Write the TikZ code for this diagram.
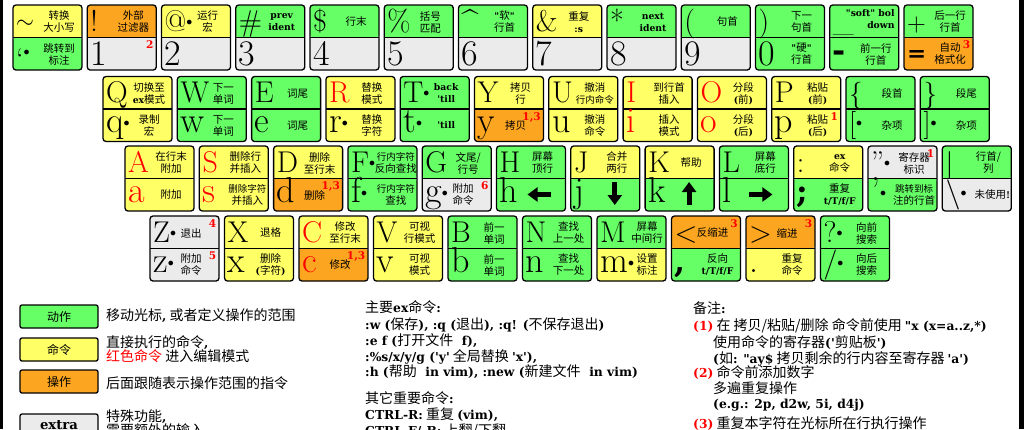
\documentclass[tikz,border=0pt]{standalone}
\usepackage{fontspec}
\usepackage{graphicx}
\newfontfamily\cjk{Noto Sans CJK SC}
\newfontfamily\latf{DejaVu Serif}[Scale=0.88]
\usetikzlibrary{arrows.meta}
\definecolor{kg}{HTML}{66FF66}
\definecolor{ky}{HTML}{FFFF66}
\definecolor{ko}{HTML}{FBA520}
\definecolor{kx}{HTML}{EBEBEB}
\newcommand\Fs[1]{\fontsize{#1}{#1}\selectfont}
\newcommand\sm{\fontsize{9.5}{11.5}\selectfont}
\newcommand\lbf[1]{{\latf\bfseries #1}}
\newcommand\rd{\color{red}}
\newcommand\kd{\raisebox{6pt}{\Fs{12}$\bullet$}}
\newcommand\tsh{\hspace*{10pt}}
\newcommand\lsh{\hspace*{8pt}}
\newcommand\rsh{\hspace*{4pt}}
\newcommand\dg[1]{\raisebox{-4pt}{\Fs{36}#1}}
\tikzset{
 keybox/.style={line width=1.3pt, rounded corners=3pt, minimum width=69pt, minimum height=65pt, inner sep=0pt, outer sep=0pt},
 keyedge/.style={line width=1.3pt},
 bigT/.style={font=\Fs{30}, inner sep=0pt},
 bigB/.style={font=\Fs{36}, inner sep=0pt},
 ktext/.style={font=\cjk\fontsize{10.5}{12}\selectfont, align=center, inner sep=0pt},
 supr/.style={font=\latf\bfseries\Fs{12}, text=red, inner sep=0pt},
 bigarr/.style={line width=5pt, -{Triangle[length=10pt,width=14pt]}},
 legbox/.style={draw, line width=1.3pt, rounded corners=2pt, minimum width=78pt, minimum height=23pt, inner sep=0pt, font=\cjk\Fs{12}},
 ltext/.style={font=\cjk\fontsize{14}{15}\selectfont, inner sep=0pt, anchor=base west},
}
\newcommand\vkey[9]{%
 \node[keybox, path picture={%
   \fill[#4] (path picture bounding box.north west) rectangle (path picture bounding box.east);
   \fill[#5] (path picture bounding box.west) rectangle (path picture bounding box.south east);}]
   (#1) at (#2+34.5,#3+32.5) {};
 \draw[keyedge] (#1.west) -- (#1.east);
 \draw[keyedge, rounded corners=3pt] (#1.north west) rectangle (#1.south east);
 \node[bigT, anchor=base west] (#1-tb) at ([xshift=3pt,yshift=-26pt]#1.north west) {#6};
 \node[ktext] (#1-tt) at ([xshift=46pt,yshift=-17pt]#1.north west) {#7};
 \node[bigB, anchor=base west] (#1-bb) at ([xshift=3pt,yshift=-56pt]#1.north west) {#8};
 \node[ktext] (#1-bt) at ([xshift=46pt,yshift=-49pt]#1.north west) {#9};
}
\newcommand\ksupT[2]{\node[supr, anchor=north east] (#1-sT) at ([xshift=-2.5pt,yshift=-3pt]#1.north east) {#2};}
\newcommand\ksupB[2]{\node[supr, anchor=north east] (#1-sB) at ([xshift=-2.5pt,yshift=-35.5pt]#1.north east) {#2};}
\begin{document}
\begin{tikzpicture}[x=1pt,y=-1pt]
\useasboundingbox (0,0) rectangle (1024,429);
\clip (0,0) rectangle (1024,429);
\fill[white] (0,0) rectangle (1024,429);
\fill[black] (0,0) rectangle (3,429);
\fill[black] (1019,0) rectangle (1024,429);
% ---------- row 1
\vkey{a0}{13}{5}{ky}{kg}{\raisebox{3pt}{\scalebox{2.3}{\Fs{10}$\sim$}}}{转换\\大小写}{\Fs{30}\raisebox{-8pt}{`}\kd}{跳转到\\标注}
\vkey{a1}{87.25}{5}{ko}{kx}{!}{外部\\过滤器}{\dg{1}}{}
\ksupB{a1}{2}
\vkey{a2}{161.5}{5}{ky}{kx}{@\kd}{运行\\宏}{\dg{2}}{}
\vkey{a3}{235.75}{5}{kg}{kx}{\#}{\lbf{prev}\\\lbf{ident}}{\dg{3}}{}
\vkey{a4}{310}{5}{kg}{kx}{\$}{行末}{\dg{4}}{}
\vkey{a5}{384.25}{5}{kg}{kx}{\%}{括号\\匹配}{\dg{5}}{}
\vkey{a6}{458.5}{5}{kg}{kx}{\textasciicircum}{\lbf{"}软\lbf{"}\\行首}{\dg{6}}{}
\vkey{a7}{532.75}{5}{ky}{kx}{\&}{重复\\\lbf{:s}}{\dg{7}}{}
\vkey{a8}{607}{5}{kg}{kx}{*}{\lbf{next}\\\lbf{ident}}{\dg{8}}{}
\vkey{a9}{681.25}{5}{kg}{kx}{(}{句首}{\dg{9}}{}
\vkey{a10}{755.5}{5}{kg}{kg}{)}{下一\\句首}{\dg{0}}{\lbf{"}硬\lbf{"}\\行首}
\vkey{a11}{829.75}{5}{kg}{kg}{\_}{}{\lbf{-}}{前一行\\行首}
\node[ktext, align=right, anchor=north east] (a11-tx) at ([xshift=-4pt,yshift=-4pt]a11.north east) {\lbf{"soft" bol}\\\lbf{down}};
\vkey{a12}{904}{5}{kg}{ko}{\Fs{26}+}{后一行\\行首}{\lbf{\Fs{26}=}}{自动\\格式化}
\ksupB{a12}{3}
% ---------- row 2
\vkey{b0}{103}{76.5}{ky}{ky}{Q}{切换至\\\lbf{ex}模式}{q\kd}{录制\\宏}
\vkey{b1}{177.3}{76.5}{kg}{kg}{W}{下一\\单词}{w}{下一\\单词}
\vkey{b2}{251.6}{76.5}{kg}{kg}{E}{词尾}{e}{词尾}
\vkey{b3}{325.9}{76.5}{ky}{ky}{\rd R}{替换\\模式}{r\kd}{替换\\字符}
\vkey{b4}{400.2}{76.5}{kg}{kg}{T\kd}{\lbf{back}\\\lbf{'till}}{t\kd}{\lbf{'till}}
\vkey{b5}{474.5}{76.5}{ky}{ko}{Y}{拷贝\\行}{y}{拷贝\tsh}
\ksupB{b5}{1,3}
\vkey{b6}{548.8}{76.5}{ky}{ky}{U}{撤消\\{\sm 行内命令}}{u}{撤消\\命令}
\vkey{b7}{623.1}{76.5}{ky}{ky}{\rd I}{到行首\\插入}{\rd i}{插入\\模式}
\vkey{b8}{697.4}{76.5}{ky}{ky}{\rd O}{分段\\\lbf{(}前\lbf{)}}{\rd o}{分段\\\lbf{(}后\lbf{)}}
\vkey{b9}{771.7}{76.5}{ky}{ky}{P}{粘贴\\\lbf{(}前\lbf{)}}{p}{粘贴\\\lbf{(}后\lbf{)}}
\ksupB{b9}{1}
\vkey{b10}{846}{76.5}{kg}{kg}{\Fs{27}\{}{段首}{\Fs{28}[\kd}{杂项}
\vkey{b11}{920.3}{76.5}{kg}{kg}{\Fs{27}\}}{段尾}{\Fs{28}]\kd}{杂项}
% ---------- row 3
\vkey{c0}{125}{146}{ky}{ky}{\rd A}{在行末\\附加}{\rd a}{附加}
\vkey{c1}{199.3}{146}{ky}{ky}{\rd S}{删除行\\并插入}{\rd s}{\sm\rsh 删除字符\\\rsh 并插入}
\vkey{c2}{273.6}{146}{ky}{ko}{D}{删除\\至行末}{d}{删除\tsh}
\ksupB{c2}{1,3}
\vkey{c3}{347.9}{146}{kg}{kg}{F\kd}{\sm\rsh 行内字符\\\rsh 反向查找}{f\kd}{\sm\rsh 行内字符\\\rsh 查找}
\vkey{c4}{422.2}{146}{kg}{kx}{G}{文尾/\\行号}{g\kd}{附加\tsh\\命令\tsh}
\ksupB{c4}{6}
\vkey{c5}{496.5}{146}{kg}{kg}{H}{屏幕\\顶行}{h}{}
\vkey{c6}{570.8}{146}{ky}{kg}{J}{合并\\两行}{j}{}
\vkey{c7}{645.1}{146}{ky}{kg}{K}{帮助}{k}{}
\vkey{c8}{719.4}{146}{kg}{kg}{L}{屏幕\\底行}{l}{}
\vkey{c9}{793.7}{146}{ky}{kg}{:}{\lbf{ex}\\命令}{\lbf{;}}{重复\\\lbf{t/T/f/F}}
\vkey{c10}{868}{146}{kx}{kg}{"\kd}{寄存器\\标识}{'\kd}{\sm 跳转到标\\注的行首}
\ksupT{c10}{1}
\vkey{c11}{942.3}{146}{kg}{kx}{\Fs{28}|}{行首/\\列}{\Fs{30}\textbackslash\kd}{\lsh 未使用\lbf{!}}
\draw[bigarr] ([xshift=54pt,yshift=-48.5pt]c5.north west) -- ([xshift=31pt,yshift=-48.5pt]c5.north west);
\draw[bigarr] ([xshift=44pt,yshift=-36pt]c6.north west) -- ([xshift=44pt,yshift=-59pt]c6.north west);
\draw[bigarr] ([xshift=44pt,yshift=-59pt]c7.north west) -- ([xshift=44pt,yshift=-36pt]c7.north west);
\draw[bigarr] ([xshift=30pt,yshift=-48.5pt]c8.north west) -- ([xshift=53pt,yshift=-48.5pt]c8.north west);
% ---------- row 4
\vkey{d0}{150}{216}{kx}{kx}{Z\kd}{退出\tsh}{z\kd}{附加\tsh\\命令\tsh}
\ksupT{d0}{4}
\ksupB{d0}{5}
\vkey{d1}{224.5}{216}{ky}{ky}{X}{退格}{x}{删除\\\lbf{(}字符\lbf{)}}
\vkey{d2}{299}{216}{ky}{ko}{\rd C}{修改\\至行末}{\rd c}{修改\tsh}
\ksupB{d2}{1,3}
\vkey{d3}{373.5}{216}{ky}{ky}{V}{可视\\行模式}{v}{可视\\模式}
\vkey{d4}{448}{216}{kg}{kg}{B}{前一\\单词}{b}{前一\\单词}
\vkey{d5}{522.5}{216}{kg}{kg}{N}{查找\\上一处}{n}{查找\\下一处}
\vkey{d6}{597}{216}{kg}{ky}{M}{\lsh 屏幕\\\lsh 中间行}{m\kd}{\lsh 设置\\\lsh 标注}
\vkey{d7}{671.5}{216}{ko}{kg}{<}{反缩进\tsh}{\lbf{,}}{反向\\\lbf{t/T/f/F}}
\ksupT{d7}{3}
\vkey{d8}{746}{216}{ko}{ky}{>}{缩进\tsh}{.}{重复\\命令}
\ksupT{d8}{3}
\vkey{d9}{820.5}{216}{kg}{kg}{?\kd}{向前\\搜索}{\Fs{30}/\kd}{向后\\搜索}
% ---------- legend
\node[legbox, fill=kg] (lg1) at (59,316.5) {动作};
\node[legbox, fill=ky] (lg2) at (59,349.5) {命令};
\node[legbox, fill=ko] (lg3) at (59,381.5) {操作};
\node[legbox, fill=kx] (lg4) at (59,425.5) {\lbf{\Fs{15}extra}};
\node[ltext] (lt1) at (106,320) {移动光标\lbf{,} 或者定义操作的范围};
\node[ltext] (lt2a) at (106,347) {直接执行的命令\lbf{,}};
\node[ltext] (lt2b) at (106,361) {{\color{red}红色命令} 进入编辑模式};
\node[ltext] (lt3) at (106,388) {后面跟随表示操作范围的指令};
\node[ltext] (lt4a) at (106,421) {特殊功能\lbf{,}};
\node[ltext] (lt4b) at (106,435) {需要额外的输入};
% middle column
\node[ltext] (m1) at (365,312) {主要\lbf{ex}命令\lbf{:}};
\node[ltext] (m2) at (365,329) {\lbf{:w (}保存\lbf{), :q (}退出\lbf{), :q! (}不保存退出\lbf{)}};
\node[ltext] (m3) at (365,345) {\lbf{:e f (}打开文件\lbf{ \ f),}};
\node[ltext] (m4) at (365,361) {\lbf{:\%s/x/y/g ('y'} 全局替换 \lbf{'x'),}};
\node[ltext] (m5) at (365,376) {\lbf{:h (}帮助\lbf{ \ in vim), :new (}新建文件\lbf{ \ in vim)}};
\node[ltext] (m6) at (365,403) {其它重要命令\lbf{:}};
\node[ltext] (m7) at (365,419) {\lbf{CTRL-R:} 重复 \lbf{(vim),}};
\node[ltext] (m8) at (365,435) {\lbf{CTRL-F/-B:} 上翻/下翻};
% right column
\node[ltext] (r0) at (693,313) {备注\lbf{:}};
\node[ltext] (r1) at (693,330) {\lbf{\rd(1)} 在 拷贝/粘贴/删除 命令前使用 \lbf{"x (x=a..z,*)}};
\node[ltext] (r2) at (713,347) {使用命令的寄存器\lbf{('}剪贴板\lbf{')}};
\node[ltext] (r3) at (713,363) {\lbf{(}如\lbf{: "ay\$} 拷贝剩余的行内容至寄存器 \lbf{'a')}};
\node[ltext] (r4) at (693,377) {\lbf{\rd(2)} 命令前添加数字};
\node[ltext] (r5) at (713,393) {多遍重复操作};
\node[ltext] (r6) at (713,408) {\lbf{(e.g.: 2p, d2w, 5i, d4j)}};
\node[ltext] (r7) at (693,428) {\lbf{\rd(3)} 重复本字符在光标所在行执行操作};
\end{tikzpicture}
\end{document}
